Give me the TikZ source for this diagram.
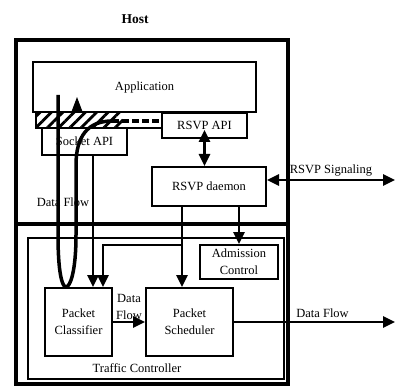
\documentclass[tikz,border=0pt]{standalone}
\usepackage{fontspec}
\setmainfont{Liberation Serif}
\usetikzlibrary{arrows.meta,patterns.meta}

\begin{document}
\begin{tikzpicture}[x=1pt,y=-1pt,
  box/.style={draw,line width=2pt,inner sep=0pt,align=center,font=\fontsize{12.5}{17}\selectfont},
  lbl/.style={inner sep=1pt,align=center,font=\fontsize{12.5}{17}\selectfont},
  flow/.style={line width=2.5pt,-{Triangle[width=11pt,length=12pt]}},
  dflow/.style={line width=2.5pt,{Triangle[width=11pt,length=12pt]}-{Triangle[width=11pt,length=12pt]}}]
  \useasboundingbox (0,0) rectangle (396,390);
  % host and the boxes
  \node[font=\bfseries\fontsize{13.5}{15}\selectfont] (host) at (135,19) {Host};
  \node[draw,line width=3.5pt,minimum width=272pt,minimum height=344pt] (hostbox) at (152,212) {};
  \node[box,minimum width=223pt,minimum height=50pt] (app) at (144.5,87) {Application};
  \node[box,minimum width=85pt,minimum height=27pt] (sock) at (84.5,141.5) {Socket API};
  \node[box,minimum width=85pt,minimum height=25pt] (rapi) at (204.5,125.5) {RSVP API};
  \node[box,minimum width=114pt,minimum height=39pt] (daemon) at (209,186.5) {RSVP daemon};
  \coordinate (div) at (0,224);
  \draw[line width=3.5pt] (hostbox.west |- div) -- (hostbox.east |- div);
  \node[draw,line width=2pt,minimum width=256pt,minimum height=141pt] (tc) at (156,308.5) {};
  \node[lbl] (tclbl) at (137,368) {Traffic Controller};
  \node[box,minimum width=78pt,minimum height=34pt] (adm) at (239,262) {Admission\\Control};
  \node[box,minimum width=67pt,minimum height=68pt] (cls) at (78.5,322) {Packet\\Classifier};
  \node[box,minimum width=87pt,minimum height=68pt] (sch) at (189.5,322) {Packet\\Scheduler};
  % hatched band under the application
  \fill[white] (36,112) rectangle (162,128);
  \fill[pattern={Lines[angle=45,distance=8pt,line width=2.8pt]}] (36,112) rectangle (122,128);
  \draw[line width=1.5pt] (36,112) rectangle (162,128);
  % data flow through the host
  \draw[line width=3.5pt] (58,95) -- (58,235) .. controls (58,272) and (62,287) .. (66,287)
    .. controls (70,287) and (76,272) .. (76,235) -- (76,165)
    .. controls (76,136) and (88,121) .. (112,121);
  \draw[line width=3.5pt,dash pattern=on 7pt off 3pt] (112,121) -- (rapi.west |- 0,121);
  \coordinate (upend) at (77,97);
  \draw[line width=1pt,-{Triangle[width=11pt,length=15pt]}] (77,112) -- (upend);
  \node[lbl] (dflbl) at (63,202) {Data Flow};
  % connectors
  \draw[dflow] ([yshift=9pt]rapi.south) -- (rapi.south |- daemon.north);
  \coordinate (sig) at (395,180);
  \draw[dflow] (daemon.east |- sig) -- (sig) node[lbl,pos=0.5,above=2pt] (siglbl) {RSVP Signaling};
  \draw[flow] (adm.north |- daemon.south) -- (adm.north);
  \coordinate (dsx) at (182,245);
  \draw[flow] (daemon.south -| dsx) -- (sch.north -| dsx);
  \draw[flow] (dsx) -- (103,245) -- (cls.north -| 103,0);
  \draw[flow] (sock.south -| 93,0) -- (cls.north -| 93,0);
  \draw[flow] (cls.east) -- (sch.west) node[lbl,pos=0.5,above=0pt] (cslbl) {Data\\Flow};
  \coordinate (out) at (395,322);
  \draw[flow] (sch.east) -- (out) node[lbl,pos=0.55,above=2pt] (outlbl) {Data Flow};
\end{tikzpicture}
\end{document}
